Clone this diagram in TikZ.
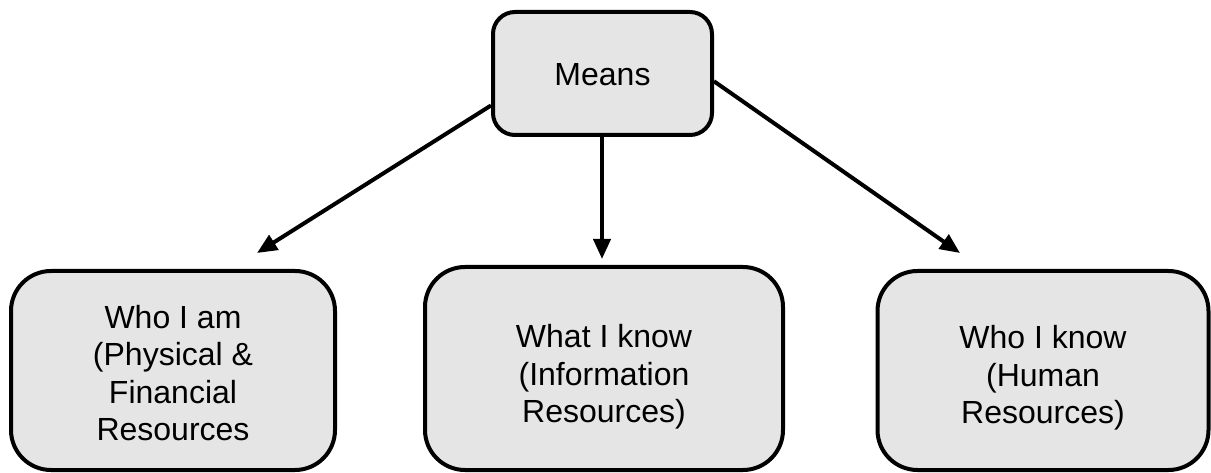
\documentclass[tikz,border=0pt]{standalone}
\usepackage{fontspec}
\setmainfont{Liberation Sans}
\usetikzlibrary{arrows.meta}
\tikzset{
  box/.style={draw=black, line width=4pt, fill=gray!20, rounded corners=40pt, inner sep=0pt},
  topbox/.style={box, rounded corners=22pt},
  lbl/.style={align=center, inner sep=0pt, font=\fontsize{32}{37.5}\selectfont},
  conn/.style={line width=4pt, -{Triangle[length=20pt,width=17pt]}}
}
\begin{document}
\begin{tikzpicture}[x=1pt,y=-1pt]
\useasboundingbox (0,0) rectangle (1211,473);
\node[topbox, minimum width=219pt, minimum height=123pt] (means) at (602.5,73.5) {};
\node[lbl] (meanst) at (602.5,74.5) {Means};
\node[box, minimum width=324pt, minimum height=199pt] (left) at (173,370.5) {};
\node[lbl] (leftt) at (173,373) {Who I am\\(Physical \&\\Financial\\Resources};
\node[box, minimum width=358pt, minimum height=203pt] (mid) at (604,368.5) {};
\node[lbl] (midt) at (604,377) {What I know\\(Information\\Resources)};
\node[box, minimum width=331pt, minimum height=199pt] (right) at (1043,370.5) {};
\node[lbl] (rightt) at (1043,378) {Who I know\\(Human\\Resources)};
\coordinate (lt) at (257,253);
\coordinate (mt) at (602,259);
\coordinate (rt) at (960,253);
\draw[conn] (means.196) -- (lt);
\draw[conn] (means.south -| mt) -- (mt);
\draw[conn] (means.-4) -- (rt);
\end{tikzpicture}
\end{document}
